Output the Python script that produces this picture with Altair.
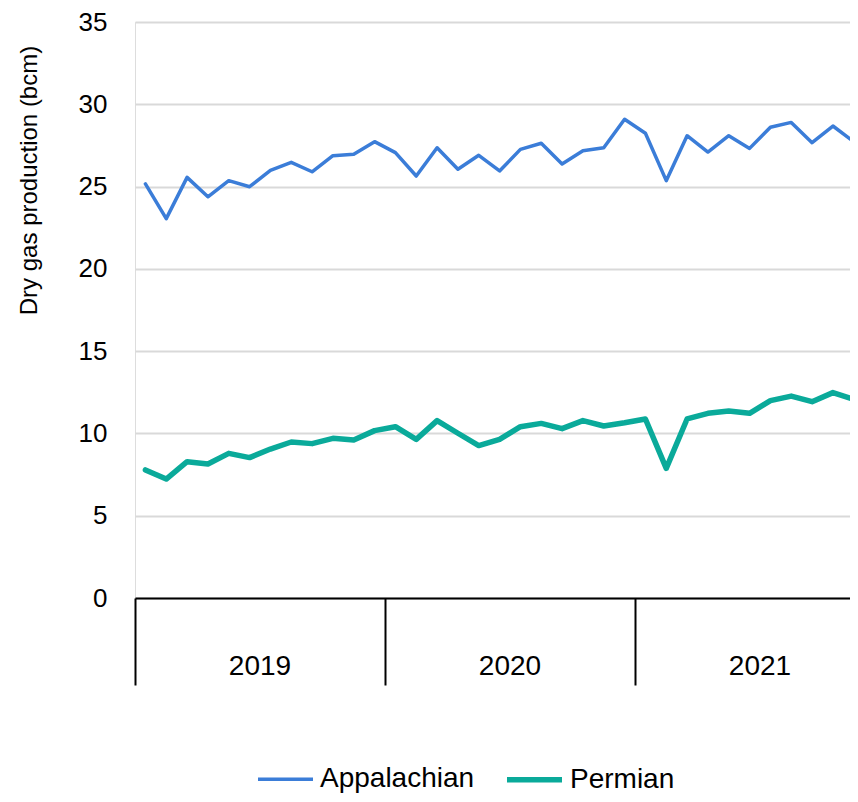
import altair as alt
import pandas as pd

series_names = ["Appalachian", "Permian"]
series_colors = ["#3b7dd8", "#0aaa9a"]
series_widths = [3.5, 5.5]

years = ["2019", "2020", "2021"]
months_per_year = 12

appalachian = [25.16, 23.05, 25.56, 24.38, 25.36, 24.99, 25.99, 26.47, 25.90, 26.88, 26.96, 27.73,
               27.06, 25.64, 27.36, 26.05, 26.90, 25.95, 27.26, 27.63, 26.37, 27.18, 27.36, 29.09,
               28.24, 25.36, 28.09, 27.10, 28.09, 27.32, 28.60, 28.90, 27.67, 28.68, 27.73]
permian = [7.78, 7.23, 8.28, 8.14, 8.79, 8.53, 9.05, 9.48, 9.38, 9.70, 9.60, 10.17,
           10.41, 9.64, 10.78, 10.01, 9.26, 9.64, 10.41, 10.61, 10.29, 10.78, 10.45, 10.65,
           10.88, 7.88, 10.88, 11.22, 11.36, 11.22, 11.99, 12.27, 11.93, 12.48, 12.07]

y_ticks = [0, 5, 10, 15, 20, 25, 30, 35]

rows = []
for name, vals in zip(series_names, [appalachian, permian]):
    for i, v in enumerate(vals):
        rows.append({"t": i + 0.5, "value": v, "series": name})
df = pd.DataFrame(rows)

year_df = pd.DataFrame({"year": years,
                        "mid": [k * months_per_year + months_per_year / 2 for k in range(len(years))]})

FONT = "Liberation Sans"
W, H = 715, 576
x_scale = alt.Scale(domain=[0, 34.32], nice=False, zero=False)

legend = alt.Legend(title=None, orient="none", legendX=121, legendY=727, direction="horizontal",
                    symbolType="stroke", symbolSize=3025, labelFontSize=28, labelFont=FONT,
                    labelColor="#000000", columnPadding=21, labelOffset=5, padding=0)

lines = alt.Chart(df).mark_line(strokeCap="round", strokeJoin="round", clip=True).encode(
    x=alt.X("t:Q", scale=x_scale,
            axis=alt.Axis(values=[0, 12, 24], labels=False, title=None, grid=False,
                          domain=True, domainColor="#000000", domainWidth=2,
                          ticks=True, tickSize=87, tickColor="#000000", tickWidth=2)),
    y=alt.Y("value:Q", scale=alt.Scale(domain=[0, 35], nice=False),
            axis=alt.Axis(values=y_ticks, title="Dry gas production (bcm)", titleFontSize=24,
                          titleFont=FONT, titleFontWeight="normal", titleColor="#000000",
                          titleX=-106, titleY=158, titleBaseline="middle", titleAlign="center",
                          labelFontSize=26, labelFont=FONT, labelColor="#000000",
                          labelPadding=28, ticks=False, tickSize=0, domain=False,
                          grid=True, gridColor="#d9d9d9", gridWidth=2)),
    color=alt.Color("series:N", scale=alt.Scale(domain=series_names, range=series_colors),
                    legend=legend),
    strokeWidth=alt.StrokeWidth("series:N", scale=alt.Scale(domain=series_names, range=series_widths),
                                legend=legend),
)

year_labels = alt.Chart(year_df).mark_text(fontSize=28, font=FONT, color="#000000",
                                           baseline="middle", align="center").encode(
    x=alt.X("mid:Q", scale=x_scale),
    y=alt.value(645),
    text="year:N",
)

chart = alt.layer(lines, year_labels).properties(
    width=W, height=H,
    autosize=alt.AutoSizeParams(type="none"),
    padding={"left": 127, "top": 14, "right": 0, "bottom": 196},
).configure_view(stroke=None).configure(font=FONT)

chart.save("out.html", embed_options={"renderer": "svg", "actions": False})
